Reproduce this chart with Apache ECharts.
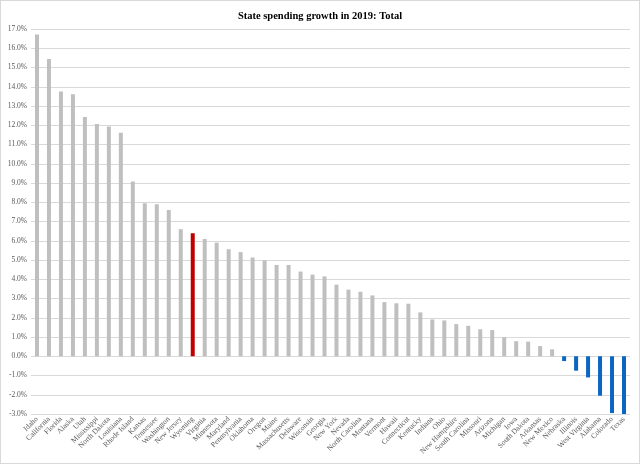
<!DOCTYPE html>
<html>
<head>
<meta charset="utf-8">
<script src="https://cdn.jsdelivr.net/npm/echarts@6/dist/echarts.min.js"></script>
<style>
  html, body { margin: 0; padding: 0; background: #fff; }
  #main { width: 638px; height: 462px; border: 1px solid #d9d9d9; }
</style>
</head>
<body>
<div id="main"></div>
<script>
// States, sorted by growth
const states = [
  "Idaho", "California", "Florida", "Alaska", "Utah", "Mississippi", "North Dakota",
  "Louisiana", "Rhode Island", "Kansas", "Tennessee", "Washington", "New Jersey",
  "Wyoming", "Virginia", "Minnesota", "Maryland", "Pennsylvania", "Oklahoma", "Oregon",
  "Maine", "Massachusetts", "Delaware", "Wisconsin", "Georgia", "New York", "Nevada",
  "North Carolina", "Montana", "Vermont", "Hawaii", "Connecticut", "Kentucky", "Indiana",
  "Ohio", "New Hampshire", "South Carolina", "Missouri", "Arizona", "Michigan", "Iowa",
  "South Dakota", "Arkansas", "New Mexico", "Nebraska", "Illinois", "West Virginia",
  "Alabama", "Colorado", "Texas"
];

// Spending growth in 2019 (%)
const growth = [
  16.72, 15.44, 13.75, 13.61, 12.43, 12.07, 11.93,
  11.61, 9.08, 7.95, 7.89, 7.60, 6.60,
  6.39, 6.09, 5.90, 5.56, 5.41, 5.13, 4.98,
  4.74, 4.74, 4.40, 4.24, 4.15, 3.72, 3.46,
  3.35, 3.16, 2.81, 2.75, 2.73, 2.28, 1.91,
  1.86, 1.67, 1.58, 1.40, 1.36, 0.98, 0.78,
  0.76, 0.53, 0.36, -0.25, -0.75, -1.10,
  -2.05, -2.95, -3.00
];

const highlightState = "Wyoming";

const serif = "'Liberation Serif', 'DejaVu Serif', serif";

const chart = echarts.init(document.getElementById("main"));
chart.setOption({
  animation: false,
  title: {
    text: "State spending growth in 2019: Total",
    left: "center",
    top: 5,
    textStyle: { fontFamily: serif, fontSize: 10.5, fontWeight: "bold", color: "#000" }
  },
  grid: { left: 30, right: 9, top: 28, bottom: 49 },
  xAxis: {
    type: "category",
    data: states,
    axisLine: { show: false },
    axisTick: { show: false },
    axisLabel: {
      interval: 0,
      rotate: 45,
      margin: 4,
      fontFamily: serif,
      fontSize: 7.5,
      color: "#595959"
    }
  },
  yAxis: {
    type: "value",
    min: -3,
    max: 17,
    interval: 1,
    axisLine: { show: false },
    axisTick: { show: false },
    splitLine: { lineStyle: { color: "#d9d9d9", width: 1 } },
    axisLabel: {
      formatter: (v) => v.toFixed(1) + "%",
      fontFamily: serif,
      fontSize: 7.5,
      color: "#595959",
      margin: 4
    }
  },
  series: [
    {
      type: "bar",
      barWidth: 4,
      data: growth.map((v, i) => ({
        value: v,
        itemStyle: {
          color: states[i] === highlightState ? "#c00000" : v < 0 ? "#0a66c2" : "#bfbfbf"
        }
      }))
    }
  ]
});
</script>
</body>
</html>
